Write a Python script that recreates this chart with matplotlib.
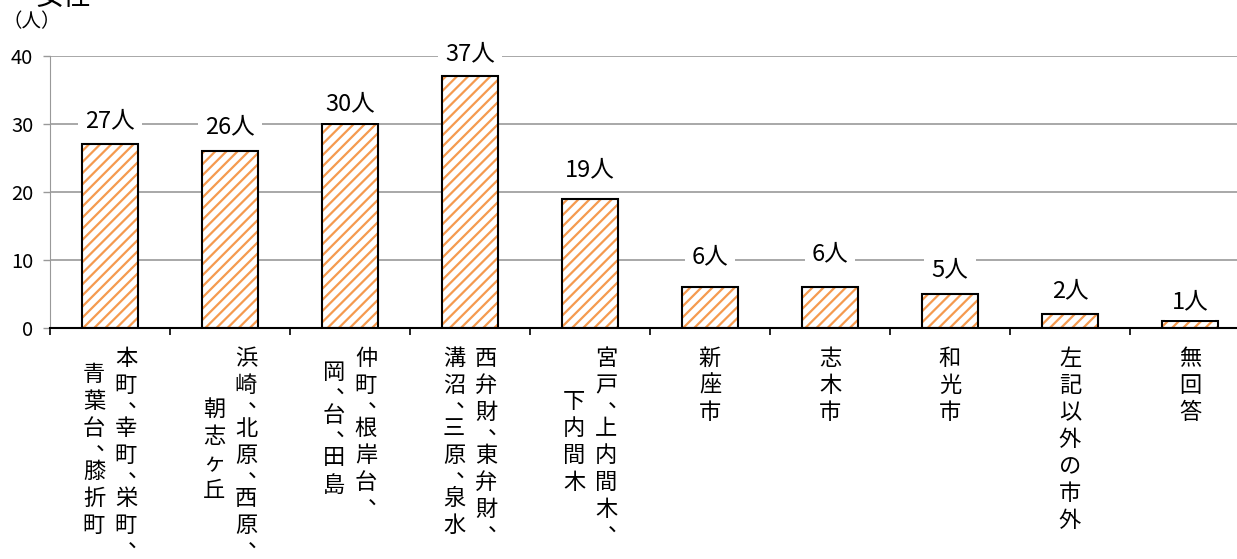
import numpy as np
import matplotlib.pyplot as plt

plt.rcParams['font.family'] = ['Noto Sans CJK JP', 'DejaVu Sans']
plt.rcParams['hatch.linewidth'] = 1.6

# category labels, one string per vertical column (right column first)
areas = [
    ["本町、幸町、栄町、", "青葉台、膝折町"],
    ["浜崎、北原、西原、", "朝志ヶ丘"],
    ["仲町、根岸台、", "岡、台、田島"],
    ["西弁財、東弁財、", "溝沼、三原、泉水"],
    ["宮戸、上内間木、", "下内間木"],
    ["新座市"],
    ["志木市"],
    ["和光市"],
    ["左記以外の市外"],
    ["無回答"],
]
counts = [27, 26, 30, 37, 19, 6, 6, 5, 2, 1]
yticks = [0, 10, 20, 30, 40]

# how far each value label sits above its bar (pixels)
label_off = [24, 24.5, 20, 23, 29, 30.5, 33.5, 24, 24, 19.5]

W, H = 1237, 559
fig = plt.figure(figsize=(W / 100, H / 100), dpi=100)
ax = fig.add_axes([50 / W, 231 / H, 1200 / W, 272 / H])

x = np.arange(len(counts))
ax.bar(x, counts, width=0.467, color='white', edgecolor='#F59A4F',
       hatch='///', linewidth=0, zorder=2)
ax.bar(x, counts, width=0.467, fill=False, edgecolor='black',
       linewidth=1.5, zorder=3)

ax.set_xlim(-0.5, len(counts) - 0.5)
ax.set_ylim(0, 40)
ax.set_yticks(yticks)
ax.yaxis.grid(True, color='#999999', lw=1.2)
ax.set_axisbelow(True)
ax.spines['top'].set_visible(False)
ax.spines['right'].set_visible(False)
ax.spines['left'].set_color('#999999')
ax.spines['bottom'].set_color('black')
ax.spines['bottom'].set_linewidth(1.5)
ax.set_xticks(np.arange(-0.5, len(counts), 1))
ax.set_xticklabels([])
ax.tick_params('x', length=5, width=1.2, color='black', direction='out')
ax.tick_params('y', length=5, width=1, color='#999999', labelsize=14.5, pad=7)

# value labels
for xi, c, off in zip(x, counts, label_off):
    ax.annotate(f'{c}人', (xi, c), xytext=(0, off), textcoords='offset pixels',
                ha='center', va='center', fontsize=17, zorder=4,
                bbox=dict(boxstyle='square,pad=0.3', fc='white', ec='none'))

# vertical category labels
pitch, comma_pitch, col_gap, top = 27, 16, 32, 17
trans = ax.get_xaxis_transform()


def col_height(s):
    return sum(comma_pitch if ch == '、' else pitch for ch in s)


for xi, cols in zip(x, areas):
    block = max(col_height(s) for s in cols)
    n = len(cols)
    for j, s in enumerate(cols):
        dx = (n - 1) / 2 * col_gap - j * col_gap
        y = top + (block - col_height(s)) / 2
        for ch in s:
            if ch == '、':
                ax.annotate(ch, (xi, 0), xycoords=trans, xytext=(dx + 13, -(y + 2)),
                            textcoords='offset pixels', ha='center', va='center',
                            fontsize=16, annotation_clip=False)
                y += comma_pitch
            else:
                ax.annotate(ch, (xi, 0), xycoords=trans, xytext=(dx, -(y + pitch / 2)),
                            textcoords='offset pixels', ha='center', va='center',
                            fontsize=16, annotation_clip=False)
                y += pitch

fig.text(36 / W, 1 + 3 / H, '女性', fontsize=20, ha='left', va='center')
fig.text(3 / W, 1 - 22 / H, '（人）', fontsize=14, ha='left', va='center')

fig.savefig('out.png', dpi=100)
